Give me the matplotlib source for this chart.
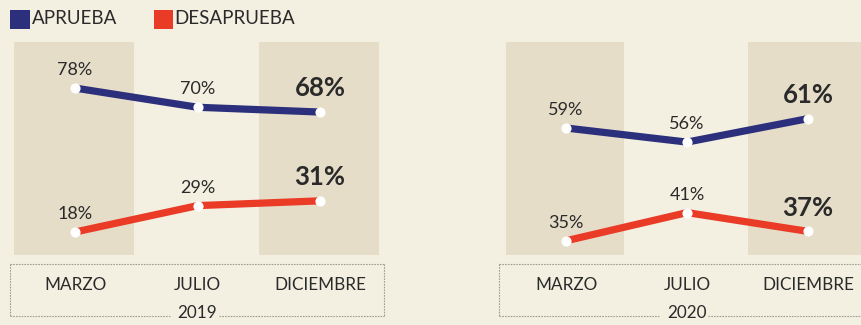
import matplotlib
matplotlib.use("Agg")
import matplotlib.pyplot as plt
from matplotlib.lines import Line2D
from matplotlib.patches import Rectangle

# Approval ratings by survey month
months = ["MARZO", "JULIO", "DICIEMBRE"]
years = ["2019", "2020"]
aprueba_2019 = [78, 70, 68]
desaprueba_2019 = [18, 29, 31]
aprueba_2020 = [59, 56, 61]
desaprueba_2020 = [35, 41, 37]

BLUE = "#2b2f7c"
RED = "#ea3b27"
BG = "#f3efe1"
BAND = "#e6ddc9"
TXT = "#2a2a2a"
GRID = "#a09d93"
FONT = "Lato"

W, H = 861, 325
fig = plt.figure(figsize=(W / 100, H / 100), dpi=100)
fig.patch.set_facecolor(BG)


def px_axes(x0, y0, x1, y1):
    # axes given in pixel coordinates (top-left origin)
    return fig.add_axes([x0 / W, 1 - y1 / H, (x1 - x0) / W, (y1 - y0) / H])


def panel(ax, year, aprueba, desaprueba, ylim, xlim):
    ax.set_xlim(*xlim)
    ax.set_ylim(*ylim)
    ax.set_facecolor("none")
    for s in ax.spines.values():
        s.set_visible(False)
    ax.set_yticks([])
    ax.set_xticks([])
    x = list(range(len(months)))
    # shaded bands behind first and last months
    for i in (0, 2):
        ax.axvspan(i - 0.5, i + 0.48, ymin=0.04, ymax=1.0, color=BAND, lw=0, zorder=0)
    for vals, col in ((aprueba, BLUE), (desaprueba, RED)):
        ax.plot(x, vals, color=col, lw=5.2, solid_capstyle="butt", zorder=2)
        ax.plot(x, vals, ls="none", marker="o", ms=5.5, mfc="white", mec="white",
                mew=1.8, zorder=3)
        for i, v in enumerate(vals):
            last = i == len(vals) - 1
            ax.annotate(f"{v}%", (i, v), xytext=(0, 17 if last else 13),
                        textcoords="offset points", ha="center", va="center",
                        fontsize=18.5 if last else 13,
                        fontweight="bold" if last else "normal",
                        color=TXT, family=FONT, zorder=4)
    # label box under the chart
    kw = dict(transform=ax.transAxes, clip_on=False, color=GRID, lw=0.8)
    ax.add_line(Line2D([0, 1], [0, 0], ls=(0, (1.5, 1)), **kw))
    ax.add_line(Line2D([0, 0], [0, -0.234], ls=(0, (1.5, 1)), **kw))
    ax.add_line(Line2D([1, 1], [0, -0.234], ls=(0, (1.5, 1)), **kw))
    ax.add_line(Line2D([0, 0.43], [-0.234, -0.234], ls=(0, (1.5, 1)), **kw))
    ax.add_line(Line2D([0.56, 1], [-0.234, -0.234], ls=(0, (1.5, 1)), **kw))
    for i, m in enumerate(months):
        ax.text(i, -0.095, m, transform=ax.get_xaxis_transform(), ha="center",
                va="center", fontsize=12.3, color=TXT, family=FONT)
    ax.text(1, -0.22, year, transform=ax.get_xaxis_transform(), ha="center",
            va="center", fontsize=12.3, color=TXT, family=FONT)


ax1 = px_axes(10, 42, 384, 264)
panel(ax1, years[0], aprueba_2019, desaprueba_2019, (4.67, 97.2), (-0.531, 2.522))
ax2 = px_axes(499, 42, 873, 264)
panel(ax2, years[1], aprueba_2020, desaprueba_2020, (30.06, 77.3), (-0.554, 2.537))

# legend
fig.patches.append(Rectangle((10 / W, 1 - 29 / H), 20 / W, 19 / H, transform=fig.transFigure,
                             color=BLUE, lw=0))
fig.text(32 / W, 1 - 19 / H, "APRUEBA", fontsize=13.5, color=TXT, family=FONT, va="center")
fig.patches.append(Rectangle((154 / W, 1 - 29 / H), 19 / W, 19 / H, transform=fig.transFigure,
                             color=RED, lw=0))
fig.text(174 / W, 1 - 19 / H, "DESAPRUEBA", fontsize=13.5, color=TXT, family=FONT, va="center")

fig.savefig("out.png", dpi=100, facecolor=BG)
